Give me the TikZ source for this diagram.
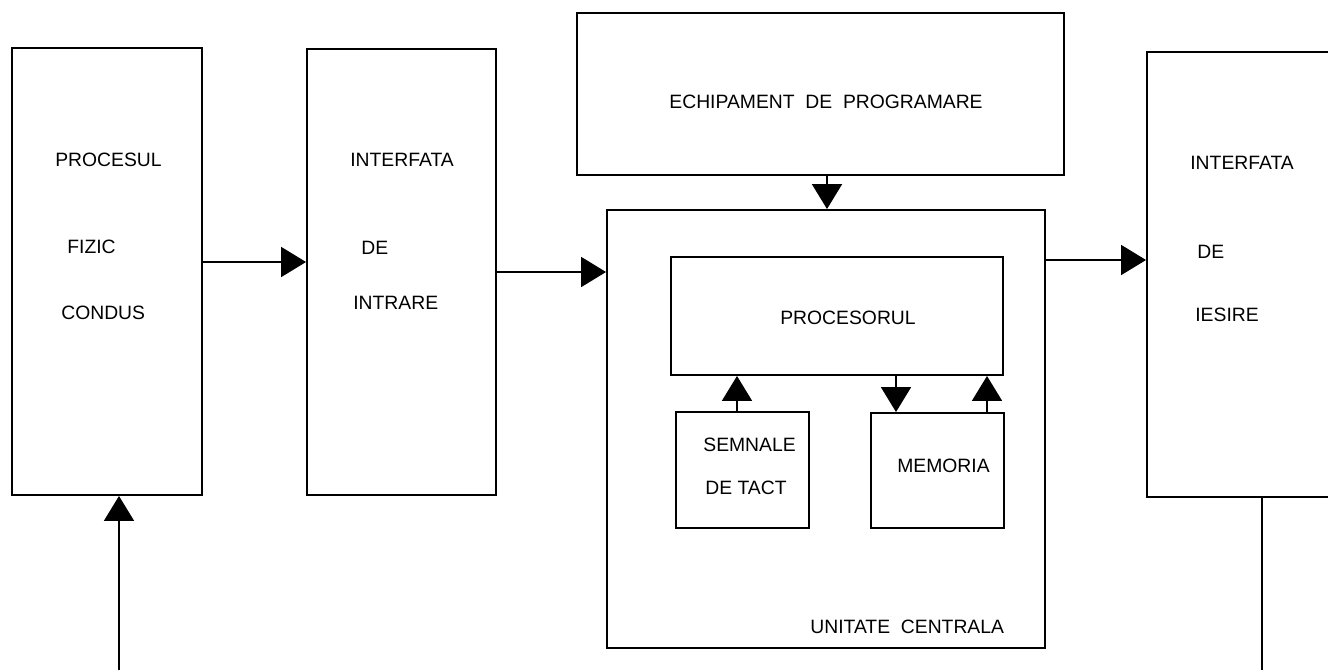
\documentclass[tikz,border=0pt]{standalone}
\usepackage{fontspec}
\setmainfont{Liberation Sans}
\usetikzlibrary{fit,arrows.meta}
\tikzset{
  blk/.style={draw, line width=1.1pt, inner sep=0pt, rectangle},
  lbl/.style={inner sep=0pt, font=\fontsize{11}{13}\selectfont},
  arr/.style={line width=1.1pt, -{Triangle[length=0.5cm,width=0.6cm]}},
  ln/.style={line width=1.1pt}
}
\begin{document}
\begin{tikzpicture}[x=0.02cm,y=-0.02cm]
\useasboundingbox (0,0) rectangle (1328,670);
\clip (0,0) rectangle (1328,670);
% boxes
\node[blk, fit={(12,48) (202,495)}] (proc) {};
\node[blk, fit={(307,49) (496,495)}] (intr) {};
\node[blk, fit={(577,13) (1064,175)}] (echip) {};
\node[blk, fit={(607,210) (1045,648)}] (uc) {};
\node[blk, fit={(671,257) (1003,375)}] (cpu) {};
\node[blk, fit={(676,412) (809,528)}] (tact) {};
\node[blk, fit={(871,413) (1004,528)}] (mem) {};
\node[blk, fit={(1147,52) (1380,497)}] (iesire) {};
% helper coordinates
\coordinate (ya) at (0,262);
\coordinate (yb) at (0,272);
\coordinate (yc) at (0,260);
\coordinate (xa) at (827,0);
\coordinate (xb) at (737,0);
\coordinate (xc) at (896,0);
\coordinate (xd) at (987,0);
\coordinate (inp) at (119,670);
\coordinate (outp) at (1262,670);
% connectors
\draw[arr] (proc.east |- ya) -- (intr.west |- ya);
\draw[arr] (intr.east |- yb) -- (uc.west |- yb);
\draw[arr] (echip.south -| xa) -- (uc.north -| xa);
\draw[arr] (uc.east |- yc) -- (iesire.west |- yc);
\draw[arr] (inp) -- (proc.south -| inp);
\draw[ln] (iesire.south -| outp) -- (outp);
\draw[arr] (tact.north -| xb) -- (cpu.south -| xb);
\draw[arr] (cpu.south -| xc) -- (mem.north -| xc);
\draw[arr] (mem.north -| xd) -- (cpu.south -| xd);
% texts
\node[lbl, anchor=west] (t1) at (55,160) {PROCESUL};
\node[lbl, anchor=west] (t2) at (67,247) {FIZIC};
\node[lbl, anchor=west] (t3) at (61,313) {CONDUS};
\node[lbl, anchor=west] (t4) at (350,160) {INTERFATA};
\node[lbl, anchor=west] (t5) at (361,248) {DE};
\node[lbl, anchor=west] (t6) at (353,303) {INTRARE};
\node[lbl] (t7) at (826,102) {ECHIPAMENT\ \ DE\ \ PROGRAMARE};
\node[lbl] (t8) at (848,318) {PROCESORUL};
\node[lbl, anchor=west] (t9) at (703,445) {SEMNALE};
\node[lbl, anchor=west] (t10) at (705,488) {DE TACT};
\node[lbl, anchor=west] (t11) at (897,466) {MEMORIA};
\node[lbl, anchor=west] (t12) at (810,627) {UNITATE\ \ CENTRALA};
\node[lbl, anchor=west] (t13) at (1190,163) {INTERFATA};
\node[lbl, anchor=west] (t14) at (1197,252) {DE};
\node[lbl, anchor=west] (t15) at (1195,315) {IESIRE};
\end{tikzpicture}
\end{document}
